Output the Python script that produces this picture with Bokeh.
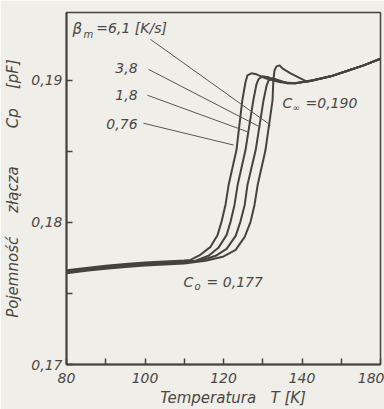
from bokeh.plotting import figure
from bokeh.models import FixedTicker, Label
from bokeh.embed import file_html
from bokeh.resources import INLINE

# ---- data ----
rates = ["0,76", "1,8", "3,8", "6,1"]

T_076 = [80, 85, 90, 95, 100, 105, 110, 111.6, 114.1, 116.7, 118.5, 119.5, 120.5, 121.3, 123.3, 124.8, 125.6, 126.1, 127.1, 128.4, 130.7, 134.5, 138.3, 142.9, 147.3, 151.6, 155.7, 160]
C_076 = [0.17663, 0.17680, 0.17695, 0.17708, 0.17718, 0.17725, 0.17732, 0.17736, 0.17772, 0.17828, 0.17912, 0.18004, 0.18123, 0.18263, 0.18509, 0.18860, 0.18986, 0.19035, 0.19049, 0.19042, 0.19014, 0.18986, 0.18979, 0.19000, 0.19028, 0.19067, 0.19105, 0.19152]

T_18 = [80, 85, 90, 95, 100, 105, 110, 112.9, 116.2, 118.7, 120.8, 121.8, 122.8, 123.6, 125.6, 127.6, 128.4, 128.9, 129.9, 131.5, 133.5, 136.3, 138.3, 142.9, 147.3, 151.6, 155.7, 160]
C_18 = [0.17656, 0.17673, 0.17688, 0.17701, 0.17711, 0.17718, 0.17725, 0.17730, 0.17765, 0.17821, 0.17912, 0.18004, 0.18123, 0.18263, 0.18509, 0.18860, 0.18972, 0.19007, 0.19028, 0.19021, 0.19000, 0.18979, 0.18979, 0.19000, 0.19028, 0.19067, 0.19105, 0.19152]

T_38 = [80, 85, 90, 95, 100, 105, 110, 114.1, 118.0, 120.8, 123.1, 124.3, 125.4, 126.1, 128.2, 130.2, 131.0, 131.5, 132.5, 134.0, 136.3, 138.3, 142.9, 147.3, 151.6, 155.7, 160]
C_38 = [0.17649, 0.17666, 0.17681, 0.17694, 0.17704, 0.17711, 0.17718, 0.17730, 0.17765, 0.17814, 0.17905, 0.18004, 0.18123, 0.18263, 0.18509, 0.18860, 0.18965, 0.19000, 0.19014, 0.19000, 0.18979, 0.18979, 0.19000, 0.19028, 0.19067, 0.19105, 0.19152]

T_61 = [80, 85, 90, 95, 100, 105, 110, 115.4, 119.8, 123.1, 125.4, 126.9, 127.9, 128.7, 130.7, 132.5, 132.7, 133.0, 133.5, 134.3, 135.0, 137.1, 139.6, 141.4, 142.9, 147.3, 151.6, 155.7, 160]
C_61 = [0.17642, 0.17659, 0.17674, 0.17687, 0.17697, 0.17704, 0.17711, 0.17730, 0.17758, 0.17807, 0.17898, 0.18004, 0.18123, 0.18263, 0.18509, 0.18860, 0.19000, 0.19070, 0.19098, 0.19105, 0.19084, 0.19049, 0.19014, 0.18989, 0.19000, 0.19028, 0.19067, 0.19105, 0.19152]

NB = "\u00a0"
x_major = [80, 100, 120, 140, 160]
x_minor = [90, 110, 130, 150]
x_labels = ["80", "100", "120", "140", "180"]
y_major = [0.17, 0.18, 0.19]
y_minor = [0.175, 0.185]
y_labels = ["0,17", "0,18", "0,19"]

# leader lines from rate labels to curves
lead_x0 = [99.6, 100.6, 100.9, 101.4]
lead_y0 = [0.18698, 0.18895, 0.19077, 0.19288]
lead_x1 = [122.6, 126.4, 129.4, 132.0]
lead_y1 = [0.18544, 0.18635, 0.18670, 0.18684]
rate_label_x = [98.1, 98.1, 98.1]
rate_label_y = [0.18691, 0.18895, 0.19084]

INK = "#46423e"
TXT = "#4a4744"
BG = "#efeee9"
FONT = "DejaVu Sans"

p = figure(width=384, height=409, x_range=(80, 160), y_range=(0.17, 0.194772),
           output_backend="svg", toolbar_location=None,
           min_border_left=66, min_border_right=4, min_border_top=12, min_border_bottom=44)
p.background_fill_color = BG
p.border_fill_color = BG
p.grid.visible = False
p.outline_line_color = INK
p.outline_line_width = 1.5

for T, C in [(T_076, C_076), (T_18, C_18), (T_38, C_38), (T_61, C_61)]:
    p.line(T, C, line_color=INK, line_width=2)

p.segment(lead_x0, lead_y0, lead_x1, lead_y1, line_color="#5a5652", line_width=1)

# axes
xa = p.xaxis[0]
xa.ticker = FixedTicker(ticks=x_major, minor_ticks=x_minor)
xa.major_label_overrides = {t: s for t, s in zip(x_major, x_labels)}
ya = p.yaxis[0]
ya.ticker = FixedTicker(ticks=y_major, minor_ticks=y_minor)
ya.major_label_overrides = {t: s for t, s in zip(y_major, y_labels)}
for ax in (xa, ya):
    ax.axis_line_color = INK
    ax.axis_line_width = 2
    ax.major_tick_line_color = INK
    ax.minor_tick_line_color = INK
    ax.major_tick_line_width = 1.5
    ax.minor_tick_line_width = 1.5
    ax.major_tick_in = 6
    ax.major_tick_out = 0
    ax.minor_tick_in = 6
    ax.minor_tick_out = 0
    ax.major_label_text_font = FONT
    ax.major_label_text_font_style = "italic"
    ax.major_label_text_font_size = "14px"
    ax.major_label_text_color = TXT
    ax.axis_label_text_font = FONT
    ax.axis_label_text_font_style = "italic"
    ax.axis_label_text_font_size = "15px"
    ax.axis_label_text_color = TXT
xa.major_label_standoff = 8
ya.major_label_standoff = 4
xa.axis_label = NB * 4 + "Temperatura" + NB * 3 + "T" + NB + "[K]"
ya.axis_label = "Pojemność" + NB * 5 + "złącza" + NB * 8 + "Cp" + NB * 4 + "[pF]"
xa.axis_label_standoff = 3
ya.axis_label_standoff = 6

def lab(x, y, text, size="14px", align="left"):
    p.add_layout(Label(x=x, y=y, text=text, text_font=FONT, text_font_style="italic",
                       text_font_size=size, text_color=TXT, text_align=align,
                       text_baseline="middle"))

for xx, yy, t in zip(rate_label_x, rate_label_y, rates[:3]):
    lab(xx, yy, t, align="right")
lab(81.5, 0.19358, "β", size="15px")
lab(84.3, 0.19323, "m", size="10px")
lab(87.6, 0.19365, "=6,1 [K/s]")
lab(135.0, 0.18839, "C")
lab(137.6, 0.18804, "∞", size="9px")
lab(140.9, 0.18839, "=0,190")
lab(109.8, 0.17582, "C")
lab(112.6, 0.17547, "o", size="10px")
lab(115.7, 0.17582, "= 0,177")

open("out.html", "w").write(file_html(p, INLINE))
